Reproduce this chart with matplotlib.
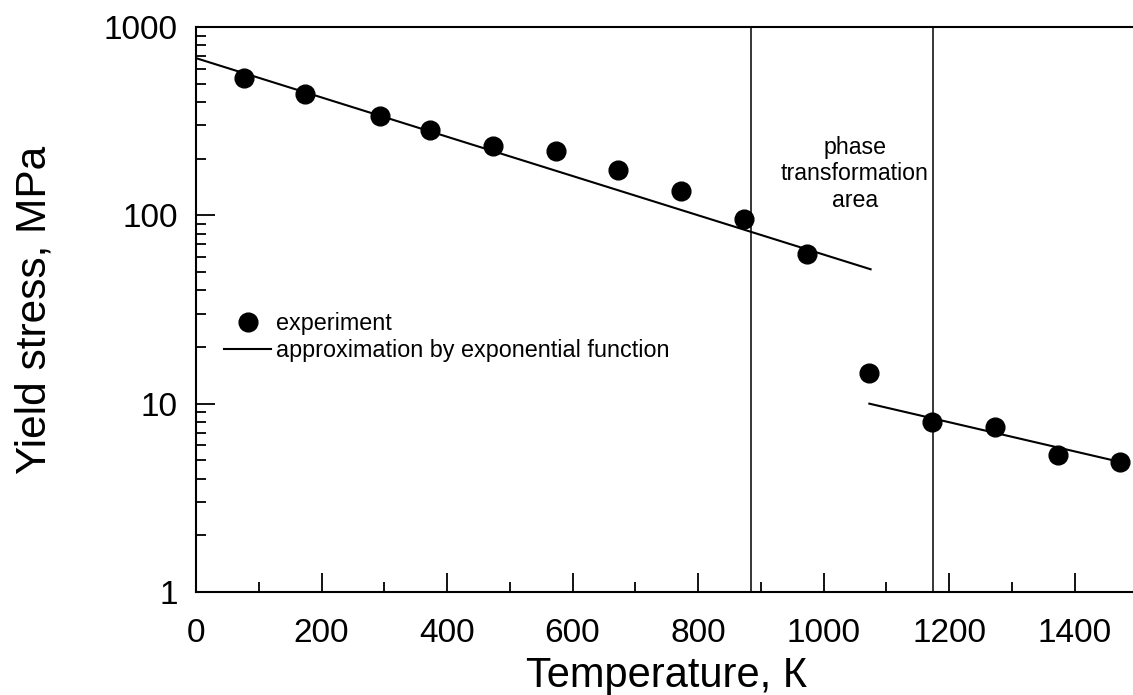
import numpy as np
import matplotlib.pyplot as plt
from matplotlib.ticker import LogLocator, MultipleLocator, FixedFormatter, FixedLocator

plt.rcParams['font.family'] = ['Liberation Sans', 'DejaVu Sans']

# experimental points (K, MPa)
temp_k = [77, 173, 293, 373, 473, 573, 673, 773, 873, 973, 1073, 1173, 1273, 1373, 1473]
stress_mpa = [537, 441, 338, 284, 234, 220, 174, 135, 95.7, 62.1, 14.6, 8.03, 7.55, 5.34, 4.92]

# exponential approximations (straight on log axis) - end points
fit1_t = [0, 1075]
fit1_s = [683, 51.7]
fit2_t = [1073, 1473]
fit2_s = [10.0, 4.9]

# borders of the phase transformation area
phase_lines = [884, 1174]

fig = plt.figure(figsize=(11.33, 6.95), dpi=100)
ax = fig.add_axes([0.173, 0.1482, 0.8308, 0.813])

ax.plot(temp_k, stress_mpa, "o", color="black", markersize=13.5, label="experiment", zorder=3)
ax.plot(fit1_t, fit1_s, "-", color="black", linewidth=1.5,
        label="approximation by exponential function")
ax.plot(fit2_t, fit2_s, "-", color="black", linewidth=1.5)
for t in phase_lines:
    ax.axvline(t, color="black", linewidth=1.1)

ax.text(1050, 166, "phase\ntransformation\narea", ha="center", va="center",
        multialignment="center", fontsize=16.7)

ax.set_yscale("log")
ax.set_xlim(0, 1500)
ax.set_ylim(1, 1000)

ax.xaxis.set_major_locator(MultipleLocator(200))
ax.xaxis.set_minor_locator(MultipleLocator(100))
ax.yaxis.set_major_locator(FixedLocator([1, 10, 100, 1000]))
ax.yaxis.set_major_formatter(FixedFormatter(["1", "10", "100", "1000"]))
ax.yaxis.set_minor_locator(LogLocator(base=10, subs=np.arange(2, 10)))
ax.yaxis.set_minor_formatter(FixedFormatter([]))

ax.tick_params(which="both", direction="in", top=False, right=False, width=1.3,
               labelsize=24)
ax.tick_params(which="major", length=13.7)
ax.tick_params(which="minor", length=7)
ax.tick_params(axis="x", pad=18.5)
ax.tick_params(axis="y", pad=13)

ax.spines["right"].set_visible(False)
for s in ["left", "bottom", "top"]:
    ax.spines[s].set_linewidth(1.5)

ax.set_xlabel("Temperature, К", fontsize=30, labelpad=5)
ax.set_ylabel("Yield stress, MPa", fontsize=30.5)
ax.yaxis.set_label_coords(-0.15, 0.5)

ax.legend(loc="upper left", bbox_to_anchor=(0.03, 0.495), frameon=False, fontsize=16.8,
          numpoints=1, handlelength=2.0, handletextpad=0.2, labelspacing=0.15,
          borderpad=0, borderaxespad=0)

plt.savefig("out.png", dpi=100)
